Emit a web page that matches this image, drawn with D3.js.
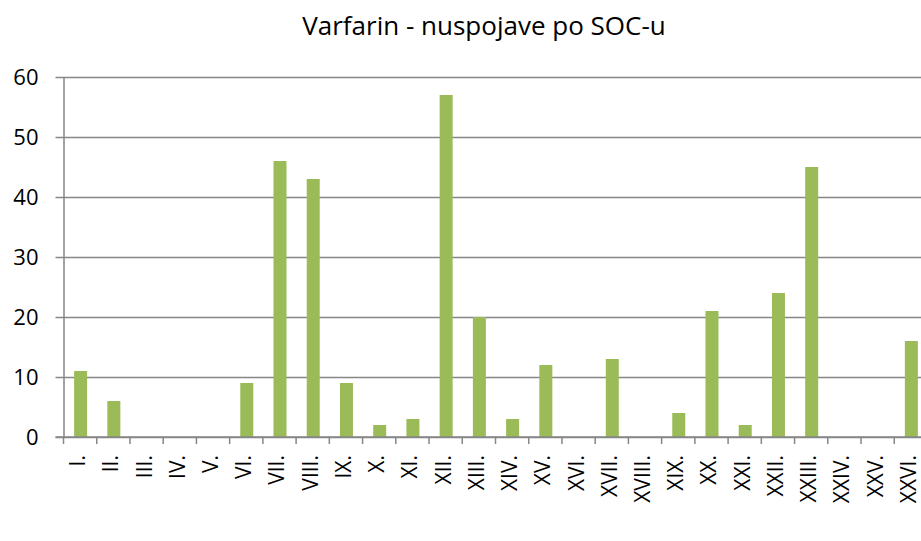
<!DOCTYPE html>
<html>
<head>
<meta charset="utf-8">
<script src="https://cdn.jsdelivr.net/npm/d3@7"></script>
<style>
  body { margin: 0; background: #fff; }
  svg { display: block; font-family: "Open Sans", sans-serif; }
</style>
</head>
<body>
<svg id="chart"></svg>
<script>
const svgWidth = 921;
const svgHeight = 541;

// SOC classes and number of reported reactions
const categories = ["I.", "II.", "III.", "IV.", "V.", "VI.", "VII.", "VIII.", "IX.", "X.", "XI.", "XII.", "XIII.",
  "XIV.", "XV.", "XVI.", "XVII.", "XVIII.", "XIX.", "XX.", "XXI.", "XXII.", "XXIII.", "XXIV.", "XXV.", "XXVI."];
const values = [11, 6, 0, 0, 0, 9, 46, 43, 9, 2, 3, 57, 20, 3, 12, 0, 13, 0, 4, 21, 2, 24, 45, 0, 0, 16];
const yTicks = [0, 10, 20, 30, 40, 50, 60];

const margin = { top: 77, left: 63.5 };
const step = 33.23;
const plotHeight = 360;

const svg = d3.select("#chart")
  .attr("width", svgWidth)
  .attr("height", svgHeight);

const x = d3.scaleBand()
  .domain(categories)
  .range([margin.left, margin.left + step * categories.length])
  .padding(0);

const y = d3.scaleLinear()
  .domain([0, 60])
  .range([margin.top + plotHeight, margin.top]);

// title
svg.append("text")
  .attr("x", 484)
  .attr("y", 35)
  .attr("text-anchor", "middle")
  .style("font-size", "26px")
  .style("fill", "#000")
  .text("Varfarin - nuspojave po SOC-u");

// gridlines + y axis
const yAxis = d3.axisLeft(y)
  .tickValues(yTicks)
  .tickSize(-(svgWidth - margin.left))
  .tickSizeOuter(0)
  .tickPadding(25);

const gy = svg.append("g")
  .attr("transform", `translate(${margin.left},0)`)
  .call(yAxis);
gy.select(".domain").attr("stroke", "#868686").attr("stroke-width", 1.5);
gy.selectAll(".tick line")
  .attr("x1", -8)
  .attr("stroke", "#868686")
  .attr("stroke-width", 1.5);
gy.selectAll(".tick text")
  .style("font-size", "22px")
  .style("font-family", "Open Sans, sans-serif")
  .attr("fill", "#000");

// bars
const barWidth = 13;
svg.selectAll(".bar")
  .data(values)
  .enter().append("rect")
  .attr("class", "bar")
  .attr("x", (d, i) => x(categories[i]) + x.bandwidth() / 2 - barWidth / 2 + 0.5)
  .attr("y", d => y(d))
  .attr("width", barWidth)
  .attr("height", d => y(0) - y(d))
  .attr("fill", "#9BBB59");

// x axis with ticks between categories
const gx = svg.append("g")
  .attr("transform", `translate(0,${y(0)})`);
gx.append("line")
  .attr("x1", margin.left - 8)
  .attr("x2", svgWidth)
  .attr("stroke", "#868686")
  .attr("stroke-width", 1.5);
gx.selectAll(".xtick")
  .data(categories)
  .enter().append("line")
  .attr("class", "xtick")
  .attr("x1", d => x(d))
  .attr("x2", d => x(d))
  .attr("y1", 0)
  .attr("y2", 7)
  .attr("stroke", "#868686")
  .attr("stroke-width", 1.5);
gx.selectAll(".xlabel")
  .data(categories)
  .enter().append("text")
  .attr("class", "xlabel")
  .attr("transform", d => `translate(${x(d) + x.bandwidth() / 2 + 5},18) rotate(-90)`)
  .attr("text-anchor", "end")
  .style("font-size", "21px")
  .style("fill", "#000")
  .text(d => d);
</script>
</body>
</html>
